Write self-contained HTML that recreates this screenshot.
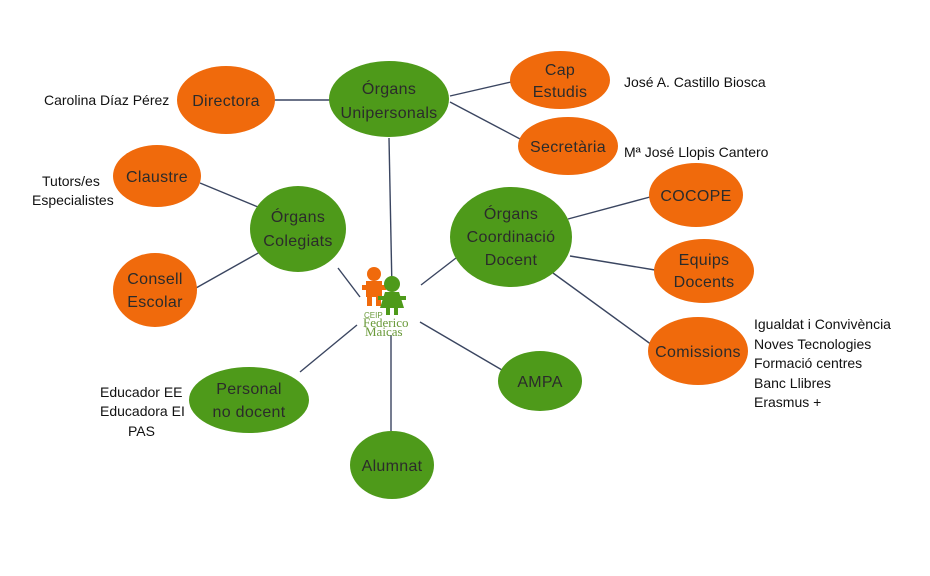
<!DOCTYPE html>
<html><head><meta charset="utf-8"><style>
body{margin:0;background:#fff}
svg text{font-family:"Liberation Sans",sans-serif}
.n{font-size:16px;fill:#2b2b2b;text-anchor:middle;letter-spacing:0.3px}
.l{font-size:14px;fill:#111}
</style></head><body>
<svg width="930" height="571" viewBox="0 0 930 571" xmlns="http://www.w3.org/2000/svg">
<g stroke="#3a4560" stroke-width="1.4">
<line x1="274" y1="100" x2="330" y2="100"/>
<line x1="450" y1="96" x2="511" y2="82"/>
<line x1="450" y1="102" x2="522" y2="140"/>
<line x1="389" y1="138" x2="392" y2="290"/>
<line x1="200" y1="183" x2="258" y2="207"/>
<line x1="196" y1="288" x2="260" y2="252"/>
<line x1="338" y1="268" x2="360" y2="297"/>
<line x1="421" y1="285" x2="456" y2="258"/>
<line x1="568" y1="219" x2="650" y2="197"/>
<line x1="570" y1="256" x2="655" y2="270"/>
<line x1="553" y1="273" x2="652" y2="345"/>
<line x1="420" y1="322" x2="502" y2="370"/>
<line x1="357" y1="325" x2="300" y2="372"/>
<line x1="391" y1="335" x2="391" y2="431"/>
</g>
<g fill="#f06a0c">
<ellipse cx="226" cy="100" rx="49" ry="34"/>
<ellipse cx="560" cy="80" rx="50" ry="29"/>
<ellipse cx="568" cy="146" rx="50" ry="29"/>
<ellipse cx="157" cy="176" rx="44" ry="31"/>
<ellipse cx="155" cy="290" rx="42" ry="37"/>
<ellipse cx="696" cy="195" rx="47" ry="32"/>
<ellipse cx="704" cy="271" rx="50" ry="32"/>
<ellipse cx="698" cy="351" rx="50" ry="34"/>
</g>
<g fill="#4e9a1a">
<ellipse cx="389" cy="99" rx="60" ry="38"/>
<ellipse cx="298" cy="229" rx="48" ry="43"/>
<ellipse cx="511" cy="237" rx="61" ry="50"/>
<ellipse cx="540" cy="381" rx="42" ry="30"/>
<ellipse cx="249" cy="400" rx="60" ry="33"/>
<ellipse cx="392" cy="465" rx="42" ry="34"/>
</g>
<g class="n">
<text x="226" y="106">Directora</text>
<text x="389" y="94">Órgans</text><text x="389" y="118">Unipersonals</text>
<text x="560" y="75">Cap</text><text x="560" y="97">Estudis</text>
<text x="568" y="152">Secretària</text>
<text x="157" y="182">Claustre</text>
<text x="298" y="222">Órgans</text><text x="298" y="246">Colegiats</text>
<text x="155" y="284">Consell</text><text x="155" y="307">Escolar</text>
<text x="511" y="219">Órgans</text><text x="511" y="242">Coordinació</text><text x="511" y="265">Docent</text>
<text x="696" y="201">COCOPE</text>
<text x="704" y="265">Equips</text><text x="704" y="287">Docents</text>
<text x="698" y="357">Comissions</text>
<text x="540" y="387">AMPA</text>
<text x="249" y="394">Personal</text><text x="249" y="417">no docent</text>
<text x="392" y="471">Alumnat</text>
</g>
<g class="l">
<text x="44" y="105">Carolina Díaz Pérez</text>
<text x="624" y="87">José A. Castillo Biosca</text>
<text x="624" y="157">Mª José Llopis Cantero</text>
<text x="42" y="186">Tutors/es</text><text x="32" y="205">Especialistes</text>
<text x="754" y="329">Igualdat i Convivència</text>
<text x="754" y="349">Noves Tecnologies</text>
<text x="754" y="368">Formació centres</text>
<text x="754" y="388">Banc Llibres</text>
<text x="754" y="407">Erasmus +</text>
<text x="100" y="397">Educador EE</text>
<text x="100" y="416">Educadora EI</text>
<text x="128" y="436">PAS</text>
</g>
<g>
<circle cx="374" cy="274" r="7" fill="#f06a0c"/>
<rect x="366" y="281" width="16" height="16" fill="#f06a0c"/>
<rect x="362" y="285" width="24" height="5" fill="#f06a0c"/>
<rect x="367" y="296" width="5" height="10" fill="#f06a0c"/>
<rect x="376" y="296" width="5" height="10" fill="#f06a0c"/>
<circle cx="392" cy="284" r="8" fill="#4e9a1a"/>
<polygon points="385,292 399,292 404,308 380,308" fill="#4e9a1a"/>
<rect x="378" y="296" width="28" height="4" fill="#4e9a1a"/>
<rect x="386" y="307" width="4" height="8" fill="#4e9a1a"/>
<rect x="394" y="307" width="4" height="8" fill="#4e9a1a"/>
<text x="364" y="318" font-size="8" fill="#6a9a3a">CEIP</text>
<text x="363" y="327" font-size="13" fill="#6a9a3a" style="font-family:'Liberation Serif',serif">Federico</text>
<text x="365" y="336" font-size="13" fill="#6a9a3a" style="font-family:'Liberation Serif',serif">Maicas</text>
</g>
</svg>
</body></html>
